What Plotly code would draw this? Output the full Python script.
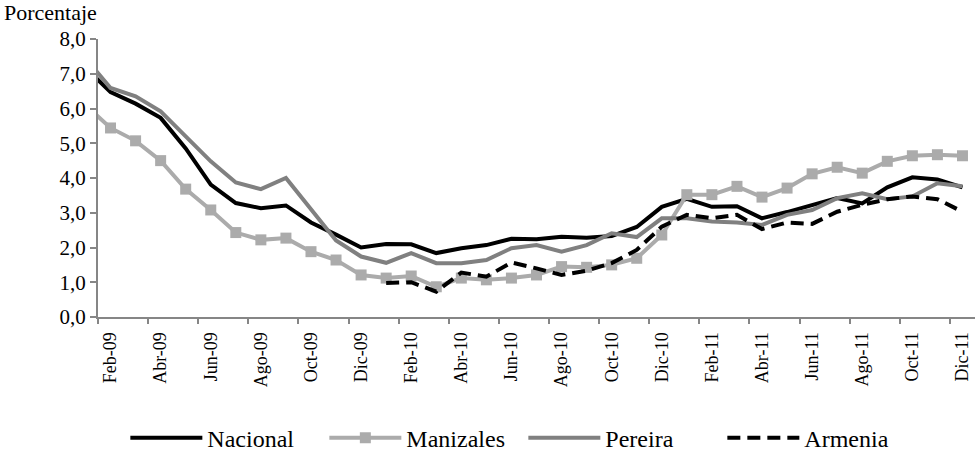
import plotly.graph_objects as go

months = ["Ene-09", "Feb-09", "Mar-09", "Abr-09", "May-09", "Jun-09", "Jul-09", "Ago-09", "Sep-09", "Oct-09", "Nov-09", "Dic-09",
          "Ene-10", "Feb-10", "Mar-10", "Abr-10", "May-10", "Jun-10", "Jul-10", "Ago-10", "Sep-10", "Oct-10", "Nov-10", "Dic-10",
          "Ene-11", "Feb-11", "Mar-11", "Abr-11", "May-11", "Jun-11", "Jul-11", "Ago-11", "Sep-11", "Oct-11", "Nov-11", "Dic-11"]

nacional = [7.18, 6.47, 6.14, 5.73, 4.85, 3.81, 3.28, 3.13, 3.21, 2.72, 2.37, 2.00,
            2.10, 2.09, 1.84, 1.98, 2.07, 2.25, 2.24, 2.31, 2.28, 2.33, 2.59, 3.17,
            3.40, 3.17, 3.19, 2.84, 3.02, 3.23, 3.42, 3.27, 3.73, 4.02, 3.96, 3.73]

manizales = [6.10, 5.44, 5.07, 4.50, 3.68, 3.08, 2.43, 2.22, 2.27, 1.88, 1.64, 1.21,
             1.12, 1.18, 0.87, 1.12, 1.07, 1.12, 1.21, 1.45, 1.43, 1.50, 1.69, 2.36,
             3.52, 3.52, 3.76, 3.45, 3.71, 4.12, 4.31, 4.14, 4.48, 4.64, 4.67, 4.64]

pereira = [7.45, 6.59, 6.35, 5.92, 5.20, 4.48, 3.87, 3.68, 4.00, 3.08, 2.20, 1.74,
           1.56, 1.84, 1.55, 1.55, 1.64, 1.98, 2.07, 1.88, 2.07, 2.41, 2.30, 2.84,
           2.84, 2.75, 2.72, 2.65, 2.94, 3.08, 3.42, 3.56, 3.39, 3.47, 3.85, 3.76]

armenia = [None] * 12 + [0.98, 1.00, 0.73, 1.28, 1.16, 1.57, 1.40, 1.21, 1.33, 1.55, 1.93, 2.60,
                         2.94, 2.84, 2.94, 2.53, 2.72, 2.68, 3.03, 3.23, 3.39, 3.47, 3.39, 3.03]

y_ticks = [0, 1, 2, 3, 4, 5, 6, 7, 8]

# position index: Feb-09 = 0
xpos = [i - 1 for i in range(len(months))]
label_pos = xpos[1::2]
label_text = months[1::2]
boundary_pos = [p - 0.5 for p in label_pos]

FONT = "Liberation Serif, Times New Roman, serif"
AXIS_GRAY = "#868686"

fig = go.Figure()
fig.add_trace(go.Scatter(x=xpos, y=nacional, name="Nacional", mode="lines",
                         line=dict(color="#000000", width=4)))
fig.add_trace(go.Scatter(x=xpos, y=manizales, name="Manizales", mode="lines+markers",
                         line=dict(color="#ABABAB", width=4),
                         marker=dict(symbol="square", size=11, color="#ABABAB")))
fig.add_trace(go.Scatter(x=xpos, y=pereira, name="Pereira", mode="lines",
                         line=dict(color="#808080", width=4)))
fig.add_trace(go.Scatter(x=xpos, y=armenia, name="Armenia", mode="lines",
                         line=dict(color="#000000", width=4, dash="13px,7px")))
fig.add_trace(go.Scatter(x=[boundary_pos[0]], y=[0], xaxis="x2", mode="markers",
                         marker=dict(opacity=0), showlegend=False, hoverinfo="skip"))

xr = [-0.5, 34.5]
fig.update_layout(
    width=978, height=461,
    margin=dict(l=98, r=3, t=39, b=144, autoexpand=False),
    paper_bgcolor="white", plot_bgcolor="white",
    separators=",.",
    font=dict(family=FONT, size=20, color="black"),
    showlegend=True,
    legend=dict(orientation="h", x=0.485, xanchor="center", y=-0.355, yanchor="top",
                font=dict(family=FONT, size=24, color="black"), itemwidth=72,
                entrywidth=112, entrywidthmode="pixels", tracegroupgap=0,
                bgcolor="rgba(0,0,0,0)"),
    xaxis=dict(range=xr, tickmode="array", tickvals=label_pos, ticktext=label_text,
               tickangle=-90, ticks="", ticklabelstandoff=6, showgrid=False, zeroline=False,
               showline=True, linecolor=AXIS_GRAY, linewidth=2, automargin=False,
               tickfont=dict(family=FONT, size=18, color="black")),
    xaxis2=dict(range=xr, overlaying="x", anchor="y", side="bottom",
                tickmode="array", tickvals=boundary_pos, showticklabels=False,
                ticks="outside", ticklen=6, tickwidth=2, tickcolor=AXIS_GRAY,
                showgrid=False, zeroline=False, showline=False, automargin=False),
    yaxis=dict(range=[0, 8], tickmode="array", tickvals=y_ticks, tickformat=".1f",
               ticks="outside", ticklen=6, tickwidth=2, tickcolor=AXIS_GRAY,
               showgrid=False, zeroline=False, showline=True, linecolor=AXIS_GRAY,
               linewidth=2, automargin=False, tickfont=dict(family=FONT, size=21, color="black")),
    annotations=[dict(text="Porcentaje", xref="paper", yref="paper", x=-0.11, y=1.0,
                      xanchor="left", yanchor="bottom", yshift=12, showarrow=False,
                      font=dict(family=FONT, size=22, color="black"))],
)

fig.write_html("out.html", config={"displayModeBar": False},
               post_script="document.body.style.margin='0';")
